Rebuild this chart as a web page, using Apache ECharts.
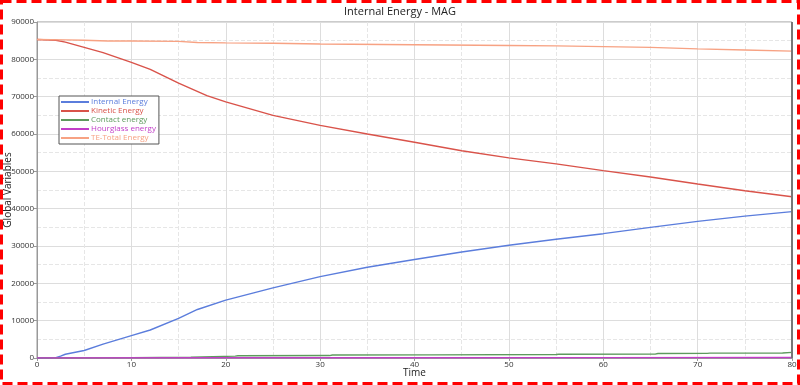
<!DOCTYPE html>
<html><head><meta charset="utf-8">
<script src="https://cdn.jsdelivr.net/npm/echarts@6/dist/echarts.min.js"></script>
<style>html,body{margin:0;padding:0;background:#fff}#c{width:800px;height:385px}</style>
</head><body><div id="c"></div>
<script>
var seriesNames = ['Internal Energy','Kinetic Energy','Contact energy','Hourglass energy','TE-Total Energy'];
var timeInternal = [0,2,2.5,3,5,7,10,12,15,17,20,25,30,35,40,45,50,55,60,65,70,75,80];
var internalE   = [0,100,500,1000,2000,3700,6000,7500,10600,13000,15500,18800,21800,24300,26400,28400,30200,31800,33300,35000,36600,38000,39200];
var timeKinetic = [0,2,3,5,7,10,12,15,18,20,25,30,35,40,45,50,55,60,65,70,75,80];
var kineticE    = [85300,85100,84600,83200,81800,79200,77300,73600,70300,68600,65000,62300,60000,57800,55500,53600,52000,50200,48500,46600,44800,43200];
var timeContact = [0,10,16.3,16.5,21,21.3,31,31.3,41.8,42,55,55.3,65.5,65.8,71,71.3,79,80];
var contactE    = [0,100,200,500,500,600,650,800,850,900,950,1000,1050,1200,1250,1300,1350,1500];
var timeHourglass = [0,20,40,60,80];
var hourglassE    = [0,50,80,100,130];
var timeTotal = [0,3,5,7.5,10,15,17,20,25,30,40,50,55,60,65,70,75,80];
var totalE    = [85300,85200,85100,84900,84900,84800,84500,84400,84300,84100,83900,83700,83600,83400,83200,82800,82500,82200];
var colors = ['#5b7ddc','#d9534a','#5d9a5d','#c23ec8','#f7a283'];

function pairs(t, v){ return t.map(function(x,i){return [x, v[i]];}); }
var data = [pairs(timeInternal, internalE), pairs(timeKinetic, kineticE), pairs(timeContact, contactE), pairs(timeHourglass, hourglassE), pairs(timeTotal, totalE)];

var chart = echarts.init(document.getElementById('c'));
var font = 'Open Sans';
var rich = {};
colors.forEach(function(c,i){ rich['c'+i] = {color:c, fontSize:8, fontFamily:font}; });
chart.setOption({
  animation:false,
  title:{text:'Internal Energy - MAG', left:'center', top:1, textStyle:{fontFamily:font, fontWeight:'normal', fontSize:11, color:'#222'}},
  grid:{left:37, right:8, top:22, bottom:27, show:true, borderColor:'#999', borderWidth:1, containLabel:false, outerBoundsMode:'none'},
  legend:{
    data:seriesNames, orient:'vertical', left:59, top:96, itemWidth:28, itemHeight:2, itemGap:1,
    icon:'rect', backgroundColor:'#fff', borderColor:'#555', borderWidth:1, padding:[2,3,2,2],
    formatter:function(n){return '{c'+seriesNames.indexOf(n)+'|'+n+'}';},
    textStyle:{fontFamily:font, fontSize:8, padding:[0,0,0,-3], rich:rich}
  },
  xAxis:{type:'value', min:0, max:80, interval:10, name:'Time', nameLocation:'middle', nameGap:10, nameMoveOverlap:false,
    nameTextStyle:{fontFamily:font, fontSize:10, color:'#222'},
    axisLine:{lineStyle:{color:'#999'}}, axisTick:{show:true, length:3, lineStyle:{color:'#999'}},
    axisLabel:{fontFamily:font, fontSize:8, color:'#333', margin:3},
    splitLine:{lineStyle:{color:'#ddd'}},
    minorTick:{show:false, splitNumber:2}, minorSplitLine:{show:true, lineStyle:{color:'#e6e6e6', type:'dashed'}}},
  yAxis:{type:'value', min:0, max:90000, interval:10000, name:'Global Variables', nameLocation:'middle', nameGap:24, nameMoveOverlap:false,
    nameTextStyle:{fontFamily:font, fontSize:10, color:'#222'},
    axisLine:{show:true, lineStyle:{color:'#999'}}, axisTick:{show:true, length:3, lineStyle:{color:'#999'}},
    axisLabel:{fontFamily:font, fontSize:8, color:'#333', margin:3, formatter:function(v){return String(v);}},
    splitLine:{lineStyle:{color:'#ddd'}},
    minorTick:{show:false, splitNumber:2}, minorSplitLine:{show:true, lineStyle:{color:'#e6e6e6', type:'dashed'}}},
  graphic:[
    {type:'rect', shape:{x:1.5, y:1.5, width:797, height:382}, style:{fill:'none', stroke:'#ff0000', lineWidth:3, lineDash:[10,5]}, silent:true, z:100},
    {type:'line', shape:{x1:792, y1:22, x2:792, y2:358}, style:{stroke:'#777', lineWidth:2}, z:50}
  ],
  series: seriesNames.map(function(n,i){
    return {name:n, type:'line', data:data[i], showSymbol:false, symbol:'none', lineStyle:{width:1.4, color:colors[i]}, itemStyle:{color:colors[i]},
      z: i===3?5:3};
  })
});
</script></body></html>
